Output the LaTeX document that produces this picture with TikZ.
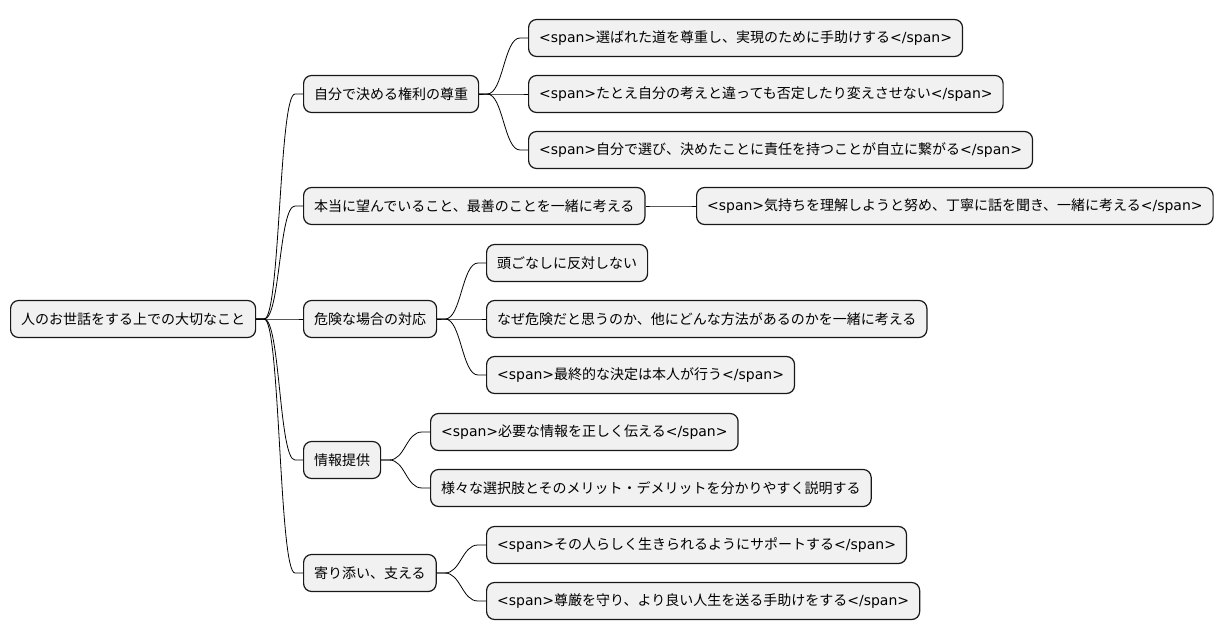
\documentclass[tikz,border=0pt]{standalone}
\usepackage{fontspec}
\setmainfont{Noto Sans CJK JP}
\newfontfamily\spanfont{DejaVu Sans}
\usepackage{xcolor}
\usetikzlibrary{positioning}
\definecolor{boxfill}{HTML}{F1F1F1}
\definecolor{boxline}{HTML}{181818}
\newcommand{\sopen}{{\spanfont <span>}}
\newcommand{\sclose}{{\spanfont </span>}}

\begin{document}
\begin{tikzpicture}[x=1pt,y=-1pt,
  box/.style={draw=boxline, line width=1.2pt, fill=boxfill, rounded corners=8pt,
    minimum height=37pt, inner xsep=10.5pt, anchor=west,
    font=\fontsize{14pt}{16pt}\selectfont},
  link/.style={line width=0.8pt, to path={-- ++(8pt,0) .. controls +(16pt,0) and +(-16pt,0) .. ([xshift=-8pt]\tikztotarget) -- (\tikztotarget)}}]

\useasboundingbox (0,0) rectangle (1223,640);

\node[box] (root) at (10,319) {人のお世話をする上での大切なこと};

\node[box] (a) at (303,94) {自分で決める権利の尊重};
\node[box] (b) at (303,206) {本当に望んでいること、最善のことを一緒に考える};
\node[box] (c) at (303,319) {危険な場合の対応};
\node[box] (d) at (303,460) {情報提供};
\node[box] (e) at (303,573) {寄り添い、支える};

\node[box] (a1) at (528,38) {\sopen 選ばれた道を尊重し、実現のために手助けする\sclose};
\node[box] (a2) at (528,94) {\sopen たとえ自分の考えと違っても否定したり変えさせない\sclose};
\node[box] (a3) at (528,150) {\sopen 自分で選び、決めたことに責任を持つことが自立に繋がる\sclose};

\node[box] (b1) at (696,206) {\sopen 気持ちを理解しようと努め、丁寧に話を聞き、一緒に考える\sclose};

\node[box] (c1) at (486,263) {頭ごなしに反対しない};
\node[box] (c2) at (486,319) {なぜ危険だと思うのか、他にどんな方法があるのかを一緒に考える};
\node[box] (c3) at (486,375) {\sopen 最終的な決定は本人が行う\sclose};

\node[box] (d1) at (430,432) {\sopen 必要な情報を正しく伝える\sclose};
\node[box] (d2) at (430,488) {様々な選択肢とそのメリット・デメリットを分かりやすく説明する};

\node[box] (e1) at (486,545) {\sopen その人らしく生きられるようにサポートする\sclose};
\node[box] (e2) at (486,601) {\sopen 尊厳を守り、より良い人生を送る手助けをする\sclose};

\foreach \p/\c in {root/a, root/b, root/c, root/d, root/e,
    a/a1, a/a2, a/a3, b/b1, c/c1, c/c2, c/c3, d/d1, d/d2, e/e1, e/e2}
  \draw[link] (\p.east) to (\c.west);

\end{tikzpicture}
\end{document}
